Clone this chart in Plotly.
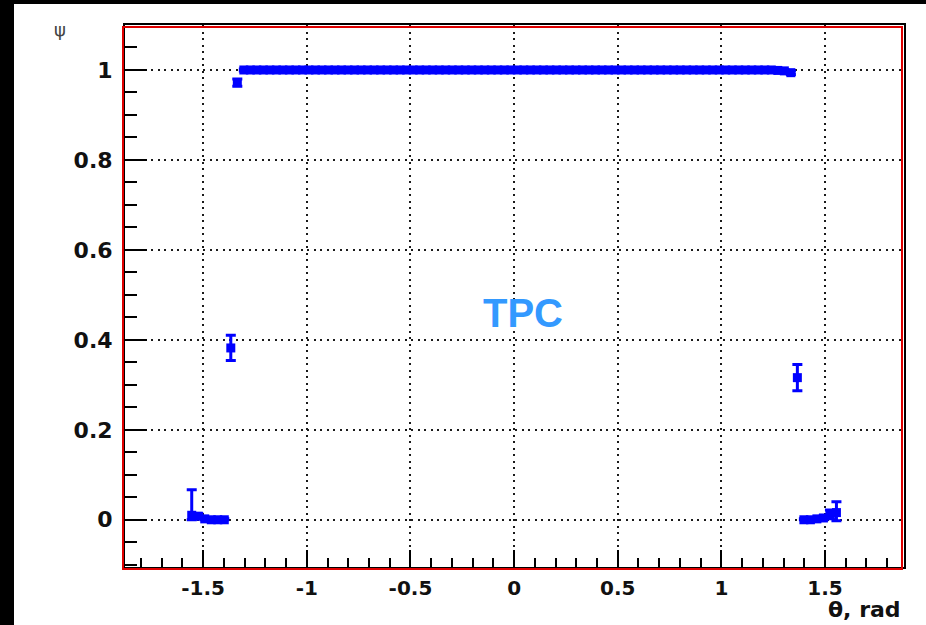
import numpy as np
import plotly.graph_objects as go

# Efficiency psi vs polar angle theta, 100 equal bins over [-pi/2, pi/2]
N_BINS = 100
THETA_LO, THETA_HI = -np.pi / 2, np.pi / 2
edges = np.linspace(THETA_LO, THETA_HI, N_BINS + 1)
theta = 0.5 * (edges[:-1] + edges[1:])

psi = [
    0.010, 0.008, 0.002, 0.000, 0.000, 0.000, 0.382, 0.972, 1.000, 1.000,
    1.000, 1.000, 1.000, 1.000, 1.000, 1.000, 1.000, 1.000, 1.000, 1.000,
    1.000, 1.000, 1.000, 1.000, 1.000, 1.000, 1.000, 1.000, 1.000, 1.000,
    1.000, 1.000, 1.000, 1.000, 1.000, 1.000, 1.000, 1.000, 1.000, 1.000,
    1.000, 1.000, 1.000, 1.000, 1.000, 1.000, 1.000, 1.000, 1.000, 1.000,
    1.000, 1.000, 1.000, 1.000, 1.000, 1.000, 1.000, 1.000, 1.000, 1.000,
    1.000, 1.000, 1.000, 1.000, 1.000, 1.000, 1.000, 1.000, 1.000, 1.000,
    1.000, 1.000, 1.000, 1.000, 1.000, 1.000, 1.000, 1.000, 1.000, 1.000,
    1.000, 1.000, 1.000, 1.000, 1.000, 1.000, 1.000, 1.000, 1.000, 1.000,
    0.999, 0.998, 0.994, 0.316, 0.000, 0.000, 0.002, 0.004, 0.010, 0.016,
]

# Asymmetric (binomial) uncertainties: upper / lower
err_up = [
    0.057, 0.006, 0.003, 0.002, 0.002, 0.002, 0.028, 0.008, 0.002, 0.002,
    0.002, 0.002, 0.002, 0.002, 0.002, 0.002, 0.002, 0.002, 0.002, 0.002,
    0.002, 0.002, 0.002, 0.002, 0.002, 0.002, 0.002, 0.002, 0.002, 0.002,
    0.002, 0.002, 0.002, 0.002, 0.002, 0.002, 0.002, 0.002, 0.002, 0.002,
    0.002, 0.002, 0.002, 0.002, 0.002, 0.002, 0.002, 0.002, 0.002, 0.002,
    0.002, 0.002, 0.002, 0.002, 0.002, 0.002, 0.002, 0.002, 0.002, 0.002,
    0.002, 0.002, 0.002, 0.002, 0.002, 0.002, 0.002, 0.002, 0.002, 0.002,
    0.002, 0.002, 0.002, 0.002, 0.002, 0.002, 0.002, 0.002, 0.002, 0.002,
    0.002, 0.002, 0.002, 0.002, 0.002, 0.002, 0.002, 0.002, 0.002, 0.002,
    0.002, 0.003, 0.004, 0.029, 0.002, 0.002, 0.003, 0.004, 0.012, 0.024,
]
err_dn = [
    0.010, 0.006, 0.002, 0.000, 0.000, 0.000, 0.028, 0.008, 0.002, 0.002,
    0.002, 0.002, 0.002, 0.002, 0.002, 0.002, 0.002, 0.002, 0.002, 0.002,
    0.002, 0.002, 0.002, 0.002, 0.002, 0.002, 0.002, 0.002, 0.002, 0.002,
    0.002, 0.002, 0.002, 0.002, 0.002, 0.002, 0.002, 0.002, 0.002, 0.002,
    0.002, 0.002, 0.002, 0.002, 0.002, 0.002, 0.002, 0.002, 0.002, 0.002,
    0.002, 0.002, 0.002, 0.002, 0.002, 0.002, 0.002, 0.002, 0.002, 0.002,
    0.002, 0.002, 0.002, 0.002, 0.002, 0.002, 0.002, 0.002, 0.002, 0.002,
    0.002, 0.002, 0.002, 0.002, 0.002, 0.002, 0.002, 0.002, 0.002, 0.002,
    0.002, 0.002, 0.002, 0.002, 0.002, 0.002, 0.002, 0.002, 0.002, 0.002,
    0.002, 0.003, 0.004, 0.029, 0.000, 0.000, 0.002, 0.004, 0.008, 0.018,
]

x_ticks = [-1.5, -1, -0.5, 0, 0.5, 1, 1.5]
x_ticklabels = ["-1.5", "-1", "-0.5", "0", "0.5", "1", "1.5"]
y_ticks = [0, 0.2, 0.4, 0.6, 0.8, 1]
y_ticklabels = ["0", "0.2", "0.4", "0.6", "0.8", "1"]

W, H = 926, 625
ML, MR, MT, MB = 125, 22, 25, 58
PW, PH = W - ML - MR, H - MT - MB

BLUE = "#0000ff"
TICKFONT = "DejaVu Sans"

fig = go.Figure()
fig.add_trace(go.Scatter(
    x=theta, y=psi, mode="markers",
    marker=dict(symbol="square", size=9, color=BLUE, line=dict(width=0)),
    error_y=dict(type="data", symmetric=False, array=err_up, arrayminus=err_dn,
                 color=BLUE, thickness=3, width=5),
    showlegend=False, cliponaxis=False,
))

grid = dict(showgrid=True, gridcolor="#1a1a1a", gridwidth=2, griddash="2px,4.5px")

fig.update_xaxes(
    range=[-1.877, 1.881], tickvals=x_ticks, ticktext=x_ticklabels,
    ticks="inside", ticklen=17, tickwidth=2, tickcolor="black",
    minor=dict(dtick=0.1, tick0=0, ticks="inside", ticklen=9, tickwidth=2,
               tickcolor="black", showgrid=False),
    showline=True, linecolor="black", linewidth=2, mirror=True,
    zeroline=False,
    tickfont=dict(family=TICKFONT, size=20, color="#111111", weight="bold"),
    ticklabelstandoff=2,
    **grid,
)
fig.update_yaxes(
    range=[-0.105, 1.1], tickvals=y_ticks, ticktext=y_ticklabels,
    ticks="inside", ticklen=22, tickwidth=2, tickcolor="black",
    minor=dict(dtick=0.05, tick0=0, ticks="inside", ticklen=12, tickwidth=2,
               tickcolor="black", showgrid=False),
    showline=True, linecolor="black", linewidth=2, mirror=True,
    zeroline=False,
    tickfont=dict(family=TICKFONT, size=22, color="#111111", weight="bold"),
    ticklabelstandoff=6,
    **grid,
)

shapes = [
    # red frame, offset slightly down-left of the black axes box
    dict(type="rect", xref="paper", yref="paper",
         x0=-2 / PW, x1=1 - 2 / PW, y0=-2 / PH, y1=1 - 2 / PH,
         line=dict(color="#e00000", width=2), layer="above"),
    # dark border strips along the left and top page edges
    dict(type="rect", xref="paper", yref="paper",
         x0=-ML / PW - 0.01, x1=(14 - ML) / PW, y0=-0.2, y1=1.2,
         line=dict(width=0), fillcolor="black", layer="above"),
    dict(type="rect", xref="paper", yref="paper",
         x0=-0.3, x1=1.1, y0=(PH + MT - 4) / PH, y1=1.2,
         line=dict(width=0), fillcolor="black", layer="above"),
]

annotations = [
    dict(text="ψ", xref="paper", yref="paper",
         x=(60 - ML) / PW, y=(PH + MT - 29) / PH, xanchor="center", yanchor="middle",
         showarrow=False, font=dict(family="DejaVu Sans", size=18, color="#444444")),
    dict(text="θ, rad", xref="paper", yref="paper",
         x=(903 - ML) / PW, y=(PH + MT - 609) / PH, xanchor="right", yanchor="middle",
         showarrow=False,
         font=dict(family=TICKFONT, size=22, color="#111111", weight="bold")),
    dict(text="TPC", xref="x", yref="y", x=0.043, y=0.46,
         xanchor="center", yanchor="middle", showarrow=False,
         font=dict(family="Liberation Sans", size=40, color="#3399ff", weight="bold")),
]

fig.update_layout(
    width=W, height=H,
    margin=dict(l=ML, r=MR, t=MT, b=MB),
    paper_bgcolor="white", plot_bgcolor="white",
    shapes=shapes, annotations=annotations,
)

fig.write_html("out.html")
